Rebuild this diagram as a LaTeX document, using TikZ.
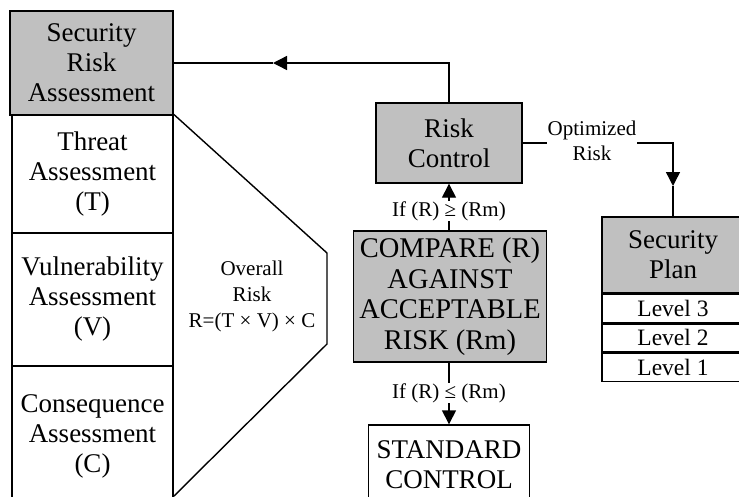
\documentclass[tikz,border=0pt]{standalone}
\usepackage{fontspec}
\setmainfont{Liberation Serif}
\usetikzlibrary{arrows.meta}
\definecolor{boxgray}{RGB}{192,192,192}
\tikzset{
  box/.style={draw=black, line width=1.4pt, align=center, inner sep=0pt,
    font=\fontsize{27}{30}\selectfont},
  graybox/.style={box, fill=boxgray},
  whitebox/.style={box, fill=white},
  levelbox/.style={box, fill=white, font=\fontsize{23.5}{26}\selectfont},
  lbl/.style={align=center, font=\fontsize{21}{25}\selectfont, fill=white, inner sep=1pt},
  plain/.style={align=center, font=\fontsize{21}{26}\selectfont, inner sep=0pt},
  conn/.style={line width=1.4pt},
  tip/.style={line width=1.4pt, -{Triangle[length=14pt,width=14pt]}}
}
\begin{document}
\begin{tikzpicture}[x=1pt,y=-1pt]
\clip (0,0) rectangle (739,496);
\fill[white] (0,0) rectangle (739,496);
% left column
\node[graybox, minimum width=163pt, minimum height=104pt] (sra) at (91.5,63) {Security\\Risk\\Assessment};
\node[whitebox, minimum width=161pt, minimum height=118pt] (thr) at (92.5,174) {Threat\\Assessment\\(T)};
\node[whitebox, minimum width=161pt, minimum height=133pt] (vul) at (92.5,299.5) {Vulnerability\\Assessment\\(V)};
\node[whitebox, minimum width=161pt, minimum height=140pt] (con) at (92.5,436) {Consequence\\Assessment\\(C)};
% hexagon outline
\coordinate (h1) at (327,253);
\coordinate (h2) at (327,344);
\coordinate (h3) at (174,496);
\draw[conn] (thr.north east) -- (h1) -- (h2) -- (h3);
\node[plain] (ovr) at (252,296) {Overall\\Risk\\R=(T × V) × C};
% middle column
\node[graybox, minimum width=146pt, minimum height=80pt] (rc) at (449,143) {Risk\\Control};
\node[graybox, minimum width=193pt, minimum height=131pt, font=\fontsize{28.5}{30.5}\selectfont] (cmp) at (450,296.5) {COMPARE (R)\\AGAINST\\ACCEPTABLE\\RISK (Rm)};
\node[whitebox, minimum width=161pt, minimum height=80pt] (sc) at (449,465) {STANDARD\\CONTROL};
% security plan
\node[graybox, minimum width=142pt, minimum height=76pt] (sp) at (673,255) {Security\\Plan};
\node[levelbox, minimum width=142pt, minimum height=28pt, anchor=north] (l3) at (sp.south) {Level 3};
\node[levelbox, minimum width=142pt, minimum height=28pt, anchor=north] (l2) at (l3.south) {Level 2};
\node[levelbox, minimum width=142pt, minimum height=28pt, anchor=north] (l1) at (l2.south) {Level 1};
% connectors
\coordinate (toptip) at (273,63);
\draw[tip] (rc.north) |- (toptip);
\draw[conn] (toptip) -- (sra.east);
\coordinate (opttip) at (673,186);
\draw[tip] (rc.east) -| (opttip);
\draw[conn] (opttip) -- (sp.north);
\node[lbl] (optl) at (592,141) {Optimized\\Risk};
\draw[tip] (cmp.north -| rc.south) -- (rc.south);
\node[lbl, inner ysep=0pt] (ifge) at (449,211) {If (R) ≥ (Rm)};
\draw[tip] (cmp.south -| sc.north) -- (sc.north);
\node[lbl, inner ysep=0pt] (ifle) at (449,393) {If (R) ≤ (Rm)};
\end{tikzpicture}
\end{document}
